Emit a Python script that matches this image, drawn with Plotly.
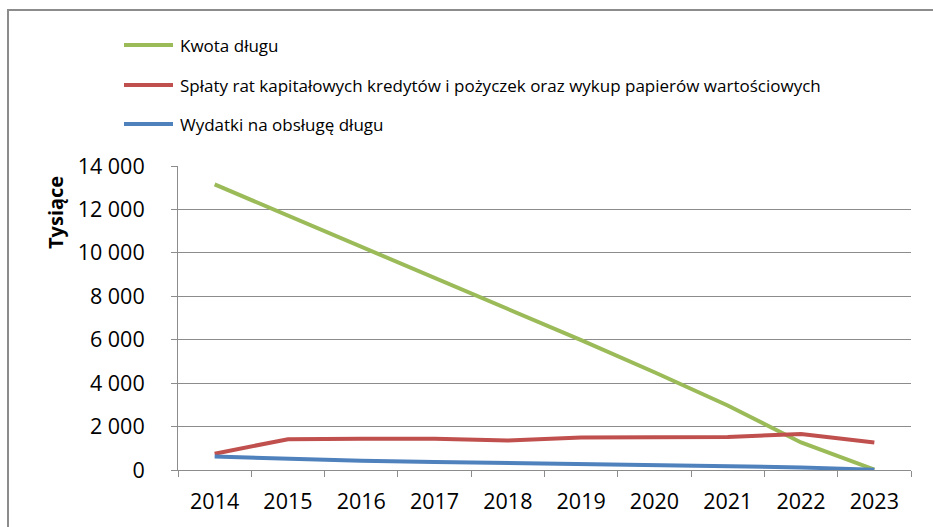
import plotly.graph_objects as go

years = ["2014", "2015", "2016", "2017", "2018", "2019", "2020", "2021", "2022", "2023"]
kwota_dlugu = [13150, 11720, 10290, 8880, 7450, 5980, 4500, 2970, 1270, 20]
splaty_rat = [750, 1420, 1440, 1440, 1360, 1500, 1510, 1520, 1660, 1270]
wydatki_obsluga = [620, 505, 430, 370, 325, 285, 230, 180, 120, 15]

series_names = [
    "Kwota długu",
    "Spłaty rat kapitałowych kredytów i pożyczek oraz wykup papierów wartościowych",
    "Wydatki na obsługę długu",
]
series_colors = ["#9BBB59", "#C0504D", "#4F81BD"]
y_tick_vals = [0, 2000, 4000, 6000, 8000, 10000, 12000, 14000]
y_tick_text = ["0", "2 000", "4 000", "6 000", "8 000", "10 000", "12 000", "14 000"]
y_title = "Tysiące"

W, H = 933, 527
L, R, T, B = 178, 911, 166, 470  # plot area in pixels
FONT = "Open Sans"


def px_x(px):
    return (px - L) / (R - L)


def px_y(py):
    return (B - py) / (B - T)


fig = go.Figure()
for name, vals, col in zip(series_names, [kwota_dlugu, splaty_rat, wydatki_obsluga], series_colors):
    fig.add_trace(go.Scatter(x=years, y=vals, mode="lines", name=name,
                             line=dict(color=col, width=4), showlegend=False))

grid_col = "#8C8C8C"
fig.update_xaxes(type="category", tickson="boundaries", range=[-0.5, 9.5],
                 showgrid=False, showline=True, linecolor=grid_col, linewidth=1,
                 ticks="outside", ticklen=6, tickcolor=grid_col,
                 tickfont=dict(family=FONT, size=21.5, color="#000"),
                 ticklabelstandoff=12)
fig.update_yaxes(range=[0, 14000], tickvals=y_tick_vals, ticktext=y_tick_text,
                 showgrid=True, gridcolor=grid_col, gridwidth=1,
                 showline=True, linecolor=grid_col, linewidth=1,
                 ticks="outside", ticklen=6, tickcolor=grid_col,
                 tickfont=dict(family=FONT, size=21.5, color="#000"),
                 ticklabelstandoff=22, zeroline=False)

shapes = []
annotations = []
# outer border
shapes.append(dict(type="rect", xref="paper", yref="paper",
                   x0=px_x(8), x1=px_x(945), y0=px_y(545), y1=px_y(10),
                   line=dict(color="#8C8C8C", width=2), layer="below"))
# legend
legend_y = [45, 85, 124]
for name, col, ly in zip(series_names, series_colors, legend_y):
    shapes.append(dict(type="line", xref="paper", yref="paper",
                       x0=px_x(124), x1=px_x(173), y0=px_y(ly), y1=px_y(ly),
                       line=dict(color=col, width=4)))
    annotations.append(dict(text=name, xref="paper", yref="paper", x=px_x(178), y=px_y(ly),
                            xanchor="left", yanchor="middle", showarrow=False,
                            font=dict(family=FONT, size=17, color="#000")))
# y axis title
annotations.append(dict(text="<b>" + y_title + "</b>", xref="paper", yref="paper",
                        x=px_x(55), y=px_y(212), textangle=-90, showarrow=False,
                        xanchor="center", yanchor="middle",
                        font=dict(family=FONT, size=20, color="#000")))

fig.update_layout(width=W, height=H,
                  margin=dict(l=L, r=W - R, t=T, b=H - B, pad=0),
                  paper_bgcolor="white", plot_bgcolor="white",
                  shapes=shapes, annotations=annotations,
                  font=dict(family=FONT))

fig.write_html("out.html", config={"displayModeBar": False},
               post_script="document.body.style.margin='0';document.body.style.overflow='hidden';")
